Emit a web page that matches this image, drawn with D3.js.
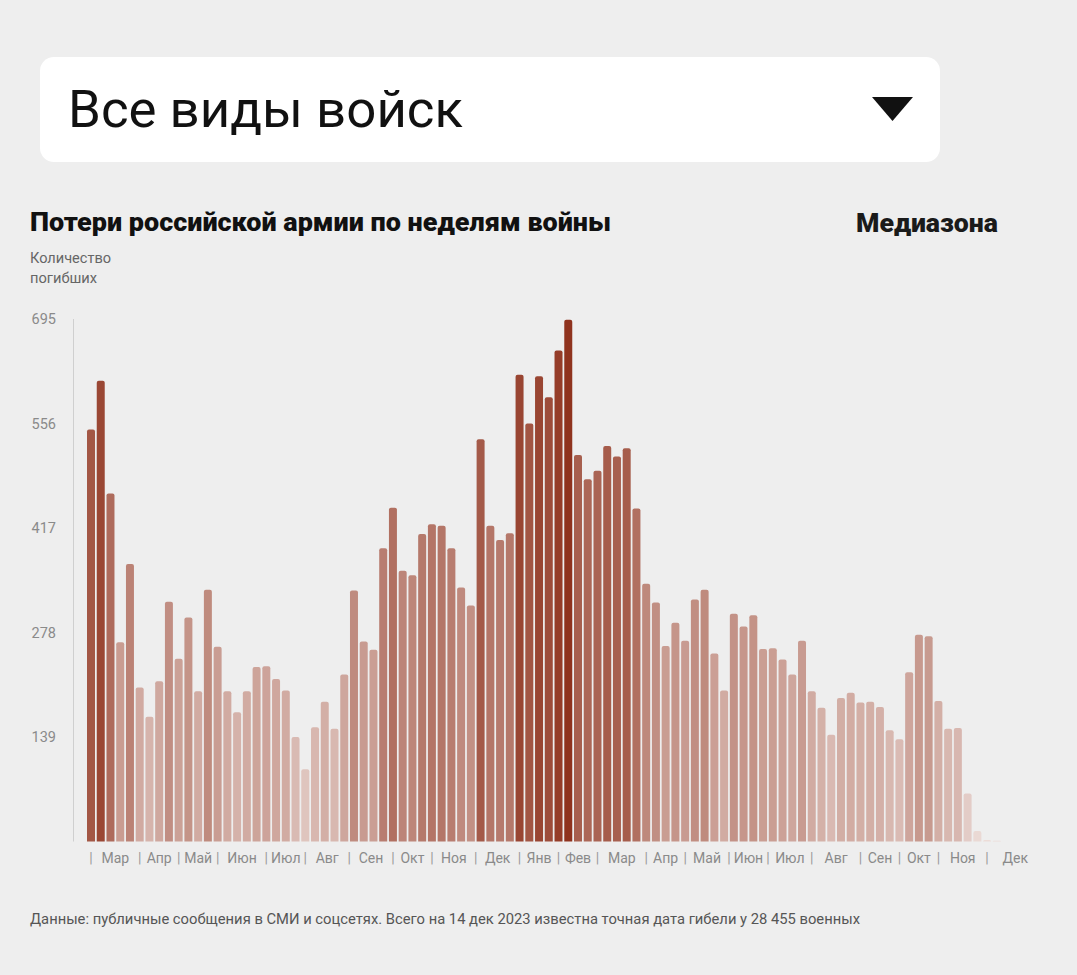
<!DOCTYPE html>
<html>
<head>
<meta charset="utf-8">
<script src="https://cdn.jsdelivr.net/npm/d3@7"></script>
<style>
  html, body { margin: 0; padding: 0; background: #eeeeee; }
  svg { display: block; }
</style>
</head>
<body>
<svg id="chart" width="1077" height="975"></svg>
<script>
// ---- DATA ----
const weeklyDeaths = [
  548, 613, 463, 265, 369, 205, 166, 213, 319, 243,
  298, 200, 335, 259, 200, 172, 200, 232, 233, 216,
  201, 139, 96, 152, 186, 150, 222, 334, 266, 255,
  390, 444, 360, 354, 409, 422, 420, 390, 338, 314,
  535, 420, 401, 410, 621, 556, 619, 591, 653, 694,
  514, 482, 493, 526, 512, 523, 443, 343, 318, 260,
  291, 267, 322, 335, 250, 201, 303, 286, 301, 256,
  257, 242, 222, 267, 200, 178, 142, 191, 198, 185,
  186, 179, 148, 136, 225, 275, 273, 187, 150, 151,
  64, 14, 2, 1
];
const yTicks = [139, 278, 417, 556, 695];
const monthLabels = ["Мар","Апр","Май","Июн","Июл","Авг","Сен","Окт","Ноя","Дек","Янв",
                     "Фев","Мар","Апр","Май","Июн","Июл","Авг","Сен","Окт","Ноя","Дек"];
// month boundaries in week-index units
const monthBounds = [0.5, 5.5, 9.5, 13.5, 18.5, 22.5, 27, 31.5, 35.5, 40, 44.5,
                     48.5, 52.5, 57.5, 61.5, 66, 70, 74.5, 79.5, 83.5, 87.5, 92.5, 98.3];
const headerLabel = "Все виды войск";
const titleText = "Потери российской армии по неделям войны";
const brandText = "Медиазона";
const yLabelLines = ["Количество", "погибших"];
const footerText = "Данные: публичные сообщения в СМИ и соцсетях. Всего на 14 дек 2023 известна точная дата гибели у 28 455 военных";

// ---- DRAW ----
const svg = d3.select("#chart");
const FONT = "Roboto, 'Noto Sans', sans-serif";

// header box
svg.append("rect").attr("x", 40).attr("y", 57).attr("width", 900).attr("height", 105)
  .attr("rx", 14).attr("fill", "#ffffff");
svg.append("text").attr("x", 68).attr("y", 127).text(headerLabel)
  .attr("font-family", FONT).attr("font-size", 52).attr("fill", "#111")
  .attr("textLength", 395).attr("lengthAdjust", "spacingAndGlyphs");
svg.append("path").attr("d", "M872,97 L913,97 L892.5,121 Z").attr("fill", "#111");

// title & brand
svg.append("text").attr("x", 30).attr("y", 231).text(titleText)
  .attr("font-family", FONT).attr("font-weight", 900).attr("font-size", 25).attr("fill", "#111")
  .attr("textLength", 581).attr("lengthAdjust", "spacingAndGlyphs");
svg.append("text").attr("x", 856).attr("y", 232).text(brandText)
  .attr("font-family", FONT).attr("font-weight", 900).attr("font-size", 25).attr("fill", "#1a1a1a")
  .attr("textLength", 142).attr("lengthAdjust", "spacingAndGlyphs");

// y label
const yl = [81, 67];
yLabelLines.forEach((t, i) => {
  svg.append("text").attr("x", 30).attr("y", 263 + i * 20).text(t)
    .attr("font-family", FONT).attr("font-size", 14).attr("fill", "#666")
    .attr("textLength", yl[i]).attr("lengthAdjust", "spacingAndGlyphs");
});

// scales
const x = d3.scaleBand()
  .domain(d3.range(weeklyDeaths.length))
  .range([86.13, 86.13 + weeklyDeaths.length * 9.74])
  .paddingInner(0.18).paddingOuter(0.09);
const step = x.step();
const xPos = v => x.range()[0] + v * step;   // continuous position in week units

const y = d3.scaleLinear().domain([0, 695]).range([841.5, 319]);
const color = d3.scaleLinear().domain([0, 695]).range(["#ecdcd8", "#8f331e"])
  .interpolate(d3.interpolateRgb);

// y axis line
svg.append("line").attr("x1", 73.5).attr("x2", 73.5).attr("y1", y(695)).attr("y2", y(0))
  .attr("stroke", "#cfcfcf").attr("stroke-width", 1);

const yAxis = d3.axisLeft(y).tickValues(yTicks).tickSize(0).tickPadding(0);
const yg = svg.append("g").attr("transform", "translate(56,0)").call(yAxis);
yg.select(".domain").remove();
yg.selectAll("text").attr("font-family", FONT).attr("font-size", 14.5).attr("fill", "#8a8a8a");

// bars with rounded top
const bw = x.bandwidth();
const r = 2;
svg.append("g").selectAll("path").data(weeklyDeaths).join("path")
  .attr("d", (d, i) => {
    const x0 = x(i), x1 = x0 + bw, yb = y(0), yt = y(d);
    const h = yb - yt;
    if (h <= 0.01) return "";
    const rr = Math.min(r, h, bw / 2);
    return `M${x0},${yb} L${x0},${yt + rr} Q${x0},${yt} ${x0 + rr},${yt} L${x1 - rr},${yt} Q${x1},${yt} ${x1},${yt + rr} L${x1},${yb} Z`;
  })
  .attr("fill", d => color(d));

// x axis labels: separators and month names
const labelY = 863;
const sepG = svg.append("g");
monthBounds.slice(0, -1).forEach(b => {
  sepG.append("text").attr("x", xPos(b)).attr("y", labelY).text("|")
    .attr("text-anchor", "middle").attr("font-family", FONT).attr("font-size", 14).attr("fill", "#9a9a9a");
});
monthLabels.forEach((m, i) => {
  const c = (monthBounds[i] + monthBounds[i + 1]) / 2;
  sepG.append("text").attr("x", xPos(c)).attr("y", labelY).text(m)
    .attr("text-anchor", "middle").attr("font-family", FONT).attr("font-size", 14).attr("fill", "#8a8a8a");
});

// footer
svg.append("text").attr("x", 30).attr("y", 924).text(footerText)
  .attr("font-family", FONT).attr("font-size", 14).attr("fill", "#555")
  .attr("textLength", 830).attr("lengthAdjust", "spacingAndGlyphs");
</script>
</body>
</html>
